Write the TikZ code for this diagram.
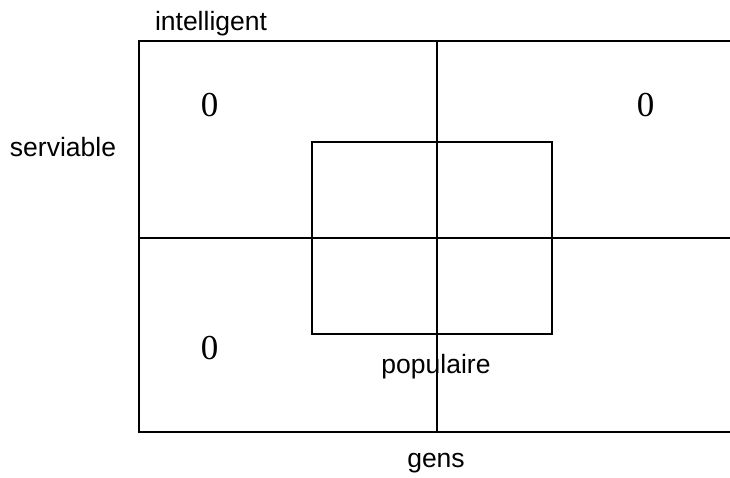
\documentclass[tikz,border=0pt]{standalone}
\usepackage{fontspec}
\setmainfont{Liberation Serif}
\newfontfamily\labelfont{Liberation Sans}
\begin{document}
\begin{tikzpicture}[x=1pt,y=-1pt,
  axislabel/.style={font=\labelfont\fontsize{26.5}{30}\selectfont, inner sep=0pt},
  zero/.style={font=\fontsize{35}{40}\selectfont, inner sep=0pt},
  frame/.style={line width=1.6pt},
  innerbox/.style={line width=1.1pt}]
\useasboundingbox (0,0) rectangle (730,477);
\clip (0,0) rectangle (730,477);
\draw[frame] (139,41) rectangle (745,432);
\draw[frame] (437,41) -- (437,432);
\draw[frame] (139,238) -- (745,238);
\draw[innerbox] (312,142) rectangle (552,334);
\node[axislabel] (intel) at (211,24) {intelligent};
\node[axislabel] (serv) at (63,147) {serviable};
\node[axislabel] (pop) at (436,367) {populaire};
\node[axislabel] (gens) at (436,463) {gens};
\node[zero] (z1) at (209.5,105) {0};
\node[zero] (z2) at (645.5,105) {0};
\node[zero] (z3) at (209.5,348) {0};
\end{tikzpicture}
\end{document}
